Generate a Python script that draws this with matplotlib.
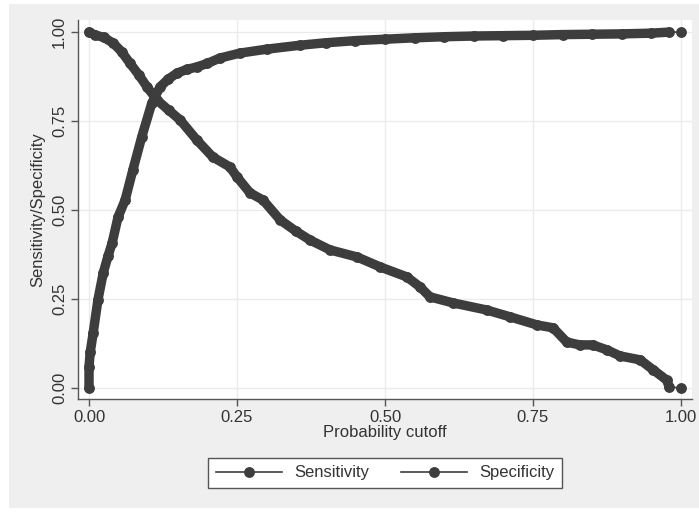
import numpy as np
import matplotlib
matplotlib.use("Agg")
import matplotlib.pyplot as plt
from matplotlib.patches import Rectangle

plt.rcParams['font.family'] = ['Liberation Sans', 'DejaVu Sans']

# cutoff / sensitivity
sens_x = [0.000, 0.010, 0.025, 0.041, 0.055, 0.069, 0.084, 0.098, 0.115, 0.135,
          0.154, 0.182, 0.209, 0.238, 0.250, 0.272, 0.294, 0.323, 0.350, 0.373,
          0.407, 0.453, 0.492, 0.537, 0.559, 0.576, 0.615, 0.672, 0.711, 0.757,
          0.784, 0.807, 0.829, 0.851, 0.875, 0.897, 0.931, 0.953, 0.976, 0.980,
          1.000]
sens_y = [1.000, 0.992, 0.985, 0.969, 0.945, 0.913, 0.880, 0.846, 0.809, 0.780,
          0.753, 0.697, 0.649, 0.621, 0.593, 0.548, 0.528, 0.472, 0.440, 0.416,
          0.388, 0.368, 0.340, 0.312, 0.284, 0.256, 0.239, 0.219, 0.200, 0.177,
          0.169, 0.129, 0.121, 0.121, 0.107, 0.090, 0.079, 0.051, 0.022, 0.003,
          0.000]

# cutoff / specificity
spec_x = [0.000, 0.000, 0.002, 0.007, 0.015, 0.024, 0.032, 0.039, 0.049, 0.061,
          0.074, 0.089, 0.106, 0.120, 0.134, 0.149, 0.165, 0.182, 0.200, 0.221,
          0.255, 0.300, 0.356, 0.400, 0.450, 0.500, 0.550, 0.600, 0.650, 0.700,
          0.750, 0.800, 0.850, 0.900, 0.950, 0.980, 1.000]
spec_y = [0.000, 0.060, 0.100, 0.154, 0.247, 0.323, 0.370, 0.407, 0.480, 0.528,
          0.612, 0.705, 0.800, 0.846, 0.868, 0.885, 0.895, 0.902, 0.912, 0.927,
          0.941, 0.952, 0.963, 0.970, 0.976, 0.980, 0.984, 0.987, 0.989, 0.990,
          0.991, 0.993, 0.994, 0.995, 0.997, 1.000, 1.000]

ticks = [0.0, 0.25, 0.5, 0.75, 1.0]
tick_labels = ["0.00", "0.25", "0.50", "0.75", "1.00"]

dark = '#3d3d3d'
txt = '#333333'
fs = 12

fig = plt.figure(figsize=(6.99, 5.12), dpi=100, facecolor='white')
fig.patches.append(Rectangle((9/699, 4/512), 690/699, 504/512, transform=fig.transFigure,
                             facecolor='#efefef', edgecolor='none', zorder=-10))
ax = fig.add_axes([78/699, 113/512, 614/699, 379/512])
ax.set_facecolor('white')

for xs, ys, name in [(sens_x, sens_y, 'Sensitivity'), (spec_x, spec_y, 'Specificity')]:
    ax.plot(xs, ys, color=dark, lw=1.2, marker='o', ms=6.8, mec=dark, mfc=dark,
            label=name, zorder=3)
    # dense points in the original merge into a thick band
    ax.plot(xs[:-1], ys[:-1], color=dark, lw=6.8, solid_capstyle='round',
            solid_joinstyle='round', zorder=3)

ax.set_xlim(-0.0186, 1.0186)
ax.set_ylim(-0.031, 1.034)
ax.set_xticks(ticks)
ax.set_xticklabels(tick_labels, fontsize=fs, color=txt)
ax.set_yticks(ticks)
ax.set_yticklabels(tick_labels, fontsize=fs, color=txt, rotation=90, va='center')
ax.tick_params(length=5, color='#555555', width=1, pad=3)
ax.grid(True, color='#ebebeb', lw=1)
ax.set_axisbelow(True)
for s in ['top', 'right']:
    ax.spines[s].set_visible(False)
for s in ['left', 'bottom']:
    ax.spines[s].set_color('#555555')
    ax.spines[s].set_linewidth(1)

ax.set_xlabel('Probability cutoff', fontsize=fs, color=txt, labelpad=0)
ax.set_ylabel('Sensitivity/Specificity', fontsize=fs, color=txt, va='center')
ax.yaxis.set_label_coords(-40/614, 0.5)

handles, labels = ax.get_legend_handles_labels()
leg = fig.legend(handles, labels, loc='center', bbox_to_anchor=(385/699, 1 - 473/512),
                 ncol=2, fontsize=fs, frameon=True, fancybox=False, handlelength=4.0,
                 handletextpad=0.7, columnspacing=1.9, borderpad=0.45)
leg.get_frame().set_edgecolor('#555555')
leg.get_frame().set_linewidth(1)
leg.get_frame().set_facecolor('white')
leg.get_frame().set_alpha(1)
for t in leg.get_texts():
    t.set_color(txt)

fig.savefig('out.png', dpi=100, facecolor=fig.get_facecolor())
